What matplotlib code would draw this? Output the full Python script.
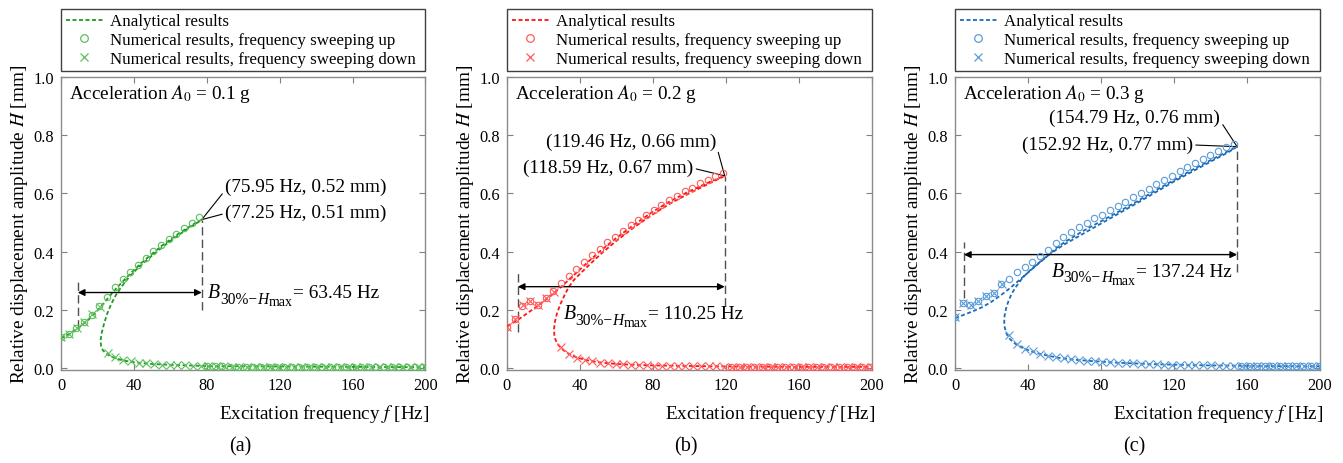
import numpy as np
import matplotlib
matplotlib.use("Agg")
import matplotlib.pyplot as plt
from matplotlib.lines import Line2D

plt.rcParams['font.family'] = ['Liberation Serif', 'DejaVu Serif']
plt.rcParams['mathtext.fontset'] = 'stix'

# ---------------------------------------------------------------- data
panel_tags = ["(a)", "(b)", "(c)"]
accelerations = ["0.1", "0.2", "0.3"]

# peak values: (analytical f, H), (numerical f, H)
peak_ana = [(77.25, 0.51), (119.46, 0.66), (154.79, 0.76)]
peak_num = [(75.95, 0.52), (118.59, 0.67), (152.92, 0.77)]
bandwidth = [63.45, 110.25, 137.24]
band_left_f = [9.2, 5.9, 4.9]          # left end of the bandwidth arrow [Hz]

# index of the last up-sweep point before the jump
peak_index = [18, 28, 36]

# analytical amplitude–frequency curves (stable upper, unstable, stable lower)
ana_f_a = [0, 5, 10, 15, 20, 25, 30, 35, 40, 45, 50, 55, 60, 65, 70, 75, 77.25,
           75, 70, 60, 50, 42, 37, 33, 30, 27.5, 25.2, 23.5, 22.3, 21.7, 22, 23,
           24.5, 27, 30, 35, 40, 50, 60, 80, 100, 130, 160, 200]
ana_H_a = [0.103, 0.12, 0.141, 0.166, 0.198, 0.235, 0.272, 0.305, 0.337, 0.366,
           0.393, 0.419, 0.442, 0.464, 0.484, 0.503, 0.51,
           0.500, 0.481, 0.437, 0.387, 0.343, 0.31, 0.278, 0.25, 0.22, 0.185,
           0.15, 0.12, 0.095, 0.075, 0.062, 0.052, 0.042, 0.034, 0.026, 0.021,
           0.015, 0.012, 0.008, 0.007, 0.006, 0.005, 0.004]

ana_f_b = [0, 5, 10, 15, 20, 25, 30, 35, 40, 45, 50, 55, 60, 70, 80, 90, 100, 110,
           119.46, 110, 100, 90, 80, 70, 60, 52, 46, 41, 37, 34, 31.5, 29.3, 27.5,
           26.3, 25.8, 26, 26.5, 27.6, 29.5, 32, 35, 38.5, 43, 50, 60, 70, 80,
           100, 130, 160, 200]
ana_H_b = [0.145, 0.162, 0.184, 0.206, 0.229, 0.254, 0.281, 0.31, 0.339, 0.368,
           0.396, 0.422, 0.447, 0.494, 0.537, 0.575, 0.607, 0.636, 0.66,
           0.631, 0.6, 0.567, 0.528, 0.485, 0.437, 0.395, 0.36, 0.33, 0.305,
           0.28, 0.25, 0.22, 0.19, 0.16, 0.135, 0.112, 0.1, 0.085, 0.07, 0.057,
           0.046, 0.037, 0.029, 0.021, 0.015, 0.012, 0.01, 0.008, 0.006, 0.005,
           0.005]

ana_f_c = [0, 5, 10, 15, 20, 25, 30, 35, 40, 45, 50, 55, 60, 70, 80, 90, 100,
           110, 120, 130, 140, 150, 154.79, 150, 140, 120, 100, 80, 60, 52, 46,
           41, 37, 33.5, 31, 29.3, 28, 27.2, 27, 27.3, 28.2, 29.5, 31.5, 34, 38,
           42, 47, 52, 57, 65, 75, 90, 110, 140, 170, 200]
ana_H_c = [0.172, 0.184, 0.196, 0.21, 0.228, 0.25, 0.274, 0.301, 0.328, 0.355,
           0.381, 0.41, 0.432, 0.47, 0.504, 0.538, 0.573, 0.61, 0.645, 0.68,
           0.713, 0.745, 0.76, 0.741, 0.708, 0.64, 0.567, 0.496, 0.425, 0.392,
           0.362, 0.335, 0.31, 0.28, 0.255, 0.23, 0.205, 0.18, 0.16, 0.14, 0.12,
           0.105, 0.092, 0.08, 0.068, 0.058, 0.049, 0.042, 0.036, 0.03, 0.025,
           0.019, 0.014, 0.01, 0.008, 0.007]

# numerical results, frequency sweeping up (48 steps from 0 Hz)
up_H_a = [0.106, 0.118, 0.137, 0.158, 0.184, 0.215, 0.246, 0.280, 0.308, 0.332,
          0.356, 0.380, 0.402, 0.424, 0.443, 0.462, 0.481, 0.500, 0.520,
          0.007, 0.007, 0.007, 0.006, 0.006, 0.006, 0.006, 0.006, 0.005, 0.005,
          0.005, 0.005, 0.005, 0.005, 0.005, 0.005, 0.005, 0.005, 0.005, 0.004,
          0.004, 0.004, 0.004, 0.004, 0.004, 0.004, 0.004, 0.004, 0.004]
up_H_b = [0.143, 0.170, 0.215, 0.230, 0.218, 0.240, 0.265, 0.292, 0.318, 0.342,
          0.365, 0.388, 0.410, 0.432, 0.452, 0.472, 0.490, 0.508, 0.526, 0.543,
          0.560, 0.576, 0.592, 0.607, 0.620, 0.634, 0.647, 0.658, 0.670,
          0.006, 0.006, 0.006, 0.006, 0.006, 0.006, 0.006, 0.006, 0.006, 0.005,
          0.005, 0.005, 0.005, 0.005, 0.005, 0.005, 0.005, 0.005, 0.005]
up_H_c = [0.176, 0.223, 0.218, 0.232, 0.247, 0.258, 0.289, 0.306, 0.329, 0.347,
          0.365, 0.386, 0.407, 0.430, 0.450, 0.467, 0.483, 0.499, 0.514, 0.527,
          0.542, 0.557, 0.572, 0.586, 0.601, 0.616, 0.631, 0.646, 0.661, 0.675,
          0.689, 0.703, 0.717, 0.731, 0.745, 0.758, 0.770,
          0.008, 0.008, 0.008, 0.008, 0.008, 0.007, 0.007, 0.007, 0.007, 0.007,
          0.007]

# numerical results, frequency sweeping down (48 steps from 200 Hz to 0 Hz)
down_H_a = [0.004, 0.004, 0.004, 0.004, 0.004, 0.004, 0.004, 0.004, 0.004, 0.004,
            0.005, 0.005, 0.005, 0.005, 0.005, 0.005, 0.005, 0.005, 0.005, 0.005,
            0.006, 0.006, 0.006, 0.006, 0.006, 0.006, 0.007, 0.007, 0.007, 0.008,
            0.009, 0.010, 0.011, 0.012, 0.013, 0.015, 0.017, 0.020, 0.024, 0.030,
            0.039, 0.053, 0.212, 0.185, 0.160, 0.138, 0.119, 0.106]
down_H_b = [0.005, 0.005, 0.005, 0.005, 0.005, 0.005, 0.005, 0.005, 0.005, 0.005,
            0.006, 0.006, 0.006, 0.006, 0.006, 0.006, 0.006, 0.006, 0.006, 0.006,
            0.007, 0.007, 0.007, 0.007, 0.007, 0.008, 0.008, 0.008, 0.009, 0.010,
            0.011, 0.012, 0.014, 0.015, 0.017, 0.020, 0.024, 0.029, 0.037, 0.050,
            0.072, 0.263, 0.240, 0.216, 0.232, 0.218, 0.170, 0.143]
down_H_c = [0.007, 0.007, 0.007, 0.007, 0.007, 0.007, 0.008, 0.008, 0.008, 0.008,
            0.008, 0.009, 0.009, 0.009, 0.010, 0.010, 0.011, 0.011, 0.012, 0.013,
            0.013, 0.014, 0.015, 0.016, 0.017, 0.018, 0.019, 0.021, 0.022, 0.024,
            0.026, 0.028, 0.031, 0.034, 0.038, 0.043, 0.050, 0.058, 0.068, 0.082,
            0.115, 0.289, 0.258, 0.247, 0.232, 0.218, 0.223, 0.176]

ana_f = [ana_f_a, ana_f_b, ana_f_c]
ana_H = [ana_H_a, ana_H_b, ana_H_c]
up_H = [up_H_a, up_H_b, up_H_c]
down_H = [down_H_a, down_H_b, down_H_c]

# --------------------------------------------------------------- styles
line_colors = ["#1f9a1f", "#ff1414", "#1c6cb8"]
marker_colors = ["#5cbf5c", "#ff5a5a", "#5a9bd8"]

# label layout for each panel
ann_text_xy = [[(90, 0.625), (90, 0.534)],
               [(114.7, 0.78), (102.3, 0.689)],
               [(145.4, 0.862), (130.6, 0.769)]]
ann_ha = ["left", "right", "right"]
right_line_bottom = [0.20, 0.215, 0.33]
left_line_span = [(0.14, 0.305), (0.125, 0.33), (0.24, 0.433)]
arrow_H = [0.26, 0.28, 0.39]
band_label_xy = [(80.7, 0.243), (30.9, 0.172), (53.0, 0.318)]   # baseline

axes_left = [61 / 1343, 507 / 1343, 955 / 1343]
ax_w = 364.5 / 1343
ax_b = 1 - 370.8 / 464
ax_h = 293.1 / 464

fig = plt.figure(figsize=(13.43, 4.64), dpi=100)
renderer = fig.canvas.get_renderer()


def chained_label(ax, x, y, pieces):
    """Write text pieces one after another; each piece has its own size,
    style and baseline shift (in pixels)."""
    xoff = 0.0
    for s, fs, dy, style in pieces:
        t = ax.annotate(s, xy=(x, y), xycoords="data", xytext=(xoff, dy),
                        textcoords="offset pixels", fontsize=fs,
                        fontstyle=style, ha="left", va="baseline")
        xoff += t.get_window_extent(renderer).width


for i in range(3):
    ax = fig.add_axes([axes_left[i], ax_b, ax_w, ax_h])
    lc, mc = line_colors[i], marker_colors[i]

    n_up = len(up_H[i])
    up_f = np.arange(n_up) * (peak_num[i][0] / peak_index[i])
    down_f = np.linspace(200, 0, len(down_H[i]))

    ax.plot(ana_f[i], ana_H[i], color=lc, lw=1.3, ls=(0, (2.2, 1.4)), zorder=3)
    ax.plot(up_f, up_H[i], ls="none", marker="o", ms=4.6, mfc="none",
            mec=mc, mew=0.8, zorder=4)
    ax.plot(down_f, down_H[i], ls="none", marker="x", ms=6, mec=mc,
            mew=0.8, zorder=4)

    ax.set_xlim(0, 200)
    ax.set_ylim(-0.005, 1.0)
    ax.set_xticks([0, 40, 80, 120, 160, 200])
    ax.set_yticks([0.0, 0.2, 0.4, 0.6, 0.8, 1.0])
    ax.set_yticklabels(["0.0", "0.2", "0.4", "0.6", "0.8", "1.0"])
    ax.tick_params(direction="in", top=True, right=True, length=4,
                   width=0.8, color="#808080", labelsize=11.8, pad=5)
    for sp in ax.spines.values():
        sp.set_color("#8a8a8a")
        sp.set_linewidth(1.0)

    ax.set_ylabel("Relative displacement amplitude $H$ [mm]", fontsize=13.9)
    ax.yaxis.set_label_coords(-0.086, 0.5)
    ax.text(0.722, -0.146, "Excitation frequency $f$ [Hz]", fontsize=13.8,
            ha="center", va="center", transform=ax.transAxes)
    ax.text(0.491, -0.26, panel_tags[i], fontsize=14.5, ha="center",
            va="center", transform=ax.transAxes)

    ax.text(0.022, 0.945, "Acceleration $A_0$ = " + accelerations[i] + " g",
            fontsize=13.8, ha="left", va="center", transform=ax.transAxes)

    # peak labels
    fa, ha_ = peak_ana[i]
    fn, hn = peak_num[i]
    lab_top = "(%.2f Hz, %.2f mm)" % (fn, hn)
    lab_bot = "(%.2f Hz, %.2f mm)" % (fa, ha_)
    if i > 0:
        lab_top, lab_bot = lab_bot, lab_top
    rel = (0.0, 0.25) if ann_ha[i] == "left" else (1.0, 0.3)
    ax.annotate(lab_top, xy=(fa, ha_), xytext=ann_text_xy[i][0], fontsize=13.9,
                ha=ann_ha[i], va="center",
                arrowprops=dict(arrowstyle="-", color="black", lw=0.8,
                                relpos=rel, shrinkA=0, shrinkB=0))
    rel2 = (0.0, 0.45) if ann_ha[i] == "left" else (1.0, 0.45)
    ax.annotate(lab_bot, xy=(fa, ha_), xytext=ann_text_xy[i][1], fontsize=13.9,
                ha=ann_ha[i], va="center",
                arrowprops=dict(arrowstyle="-", color="black", lw=0.8,
                                relpos=rel2, shrinkA=0, shrinkB=0))

    # bandwidth marking
    ax.plot([fa, fa], [right_line_bottom[i], ha_], color="#505050", lw=1.0,
            ls=(0, (6, 3)), zorder=2)
    lo, hi = left_line_span[i]
    fl = band_left_f[i]
    ax.plot([fl, fl], [lo, hi], color="#505050", lw=1.0, ls=(0, (6, 3)),
            zorder=2)
    ax.annotate("", xy=(fl, arrow_H[i]), xytext=(fa, arrow_H[i]),
                arrowprops=dict(arrowstyle="<|-|>", color="black", lw=1.0,
                                mutation_scale=10, shrinkA=0, shrinkB=0))
    bx, by = band_label_xy[i]
    chained_label(ax, bx, by, [
        ("B", 14.2, 0, "italic"),
        ("30%\u2212", 11.2, -5.5, "normal"),
        ("H", 11.2, -5.5, "italic"),
        ("max", 10.0, -8.0, "normal"),
        ("= %.2f Hz" % bandwidth[i], 13.9, 0, "normal"),
    ])

    handles = [
        Line2D([], [], color=lc, lw=1.3, ls=(0, (2.2, 1.4))),
        Line2D([], [], ls="none", marker="o", ms=5.5, mfc="none", mec=mc,
               mew=0.9),
        Line2D([], [], ls="none", marker="x", ms=6, mec=mc, mew=0.9),
    ]
    labels = ["Analytical results",
              "Numerical results, frequency sweeping up",
              "Numerical results, frequency sweeping down"]
    leg = ax.legend(handles, labels, loc="lower left",
                    bbox_to_anchor=(0, 1.019, 1, 0.2), mode="expand",
                    borderaxespad=0, fontsize=12.2, frameon=True,
                    fancybox=False, framealpha=1, edgecolor="#404040",
                    handlelength=2.2, handletextpad=0.4, labelspacing=0.15,
                    borderpad=0.27)
    leg.get_frame().set_linewidth(1.0)

fig.savefig("out.png", dpi=100)
